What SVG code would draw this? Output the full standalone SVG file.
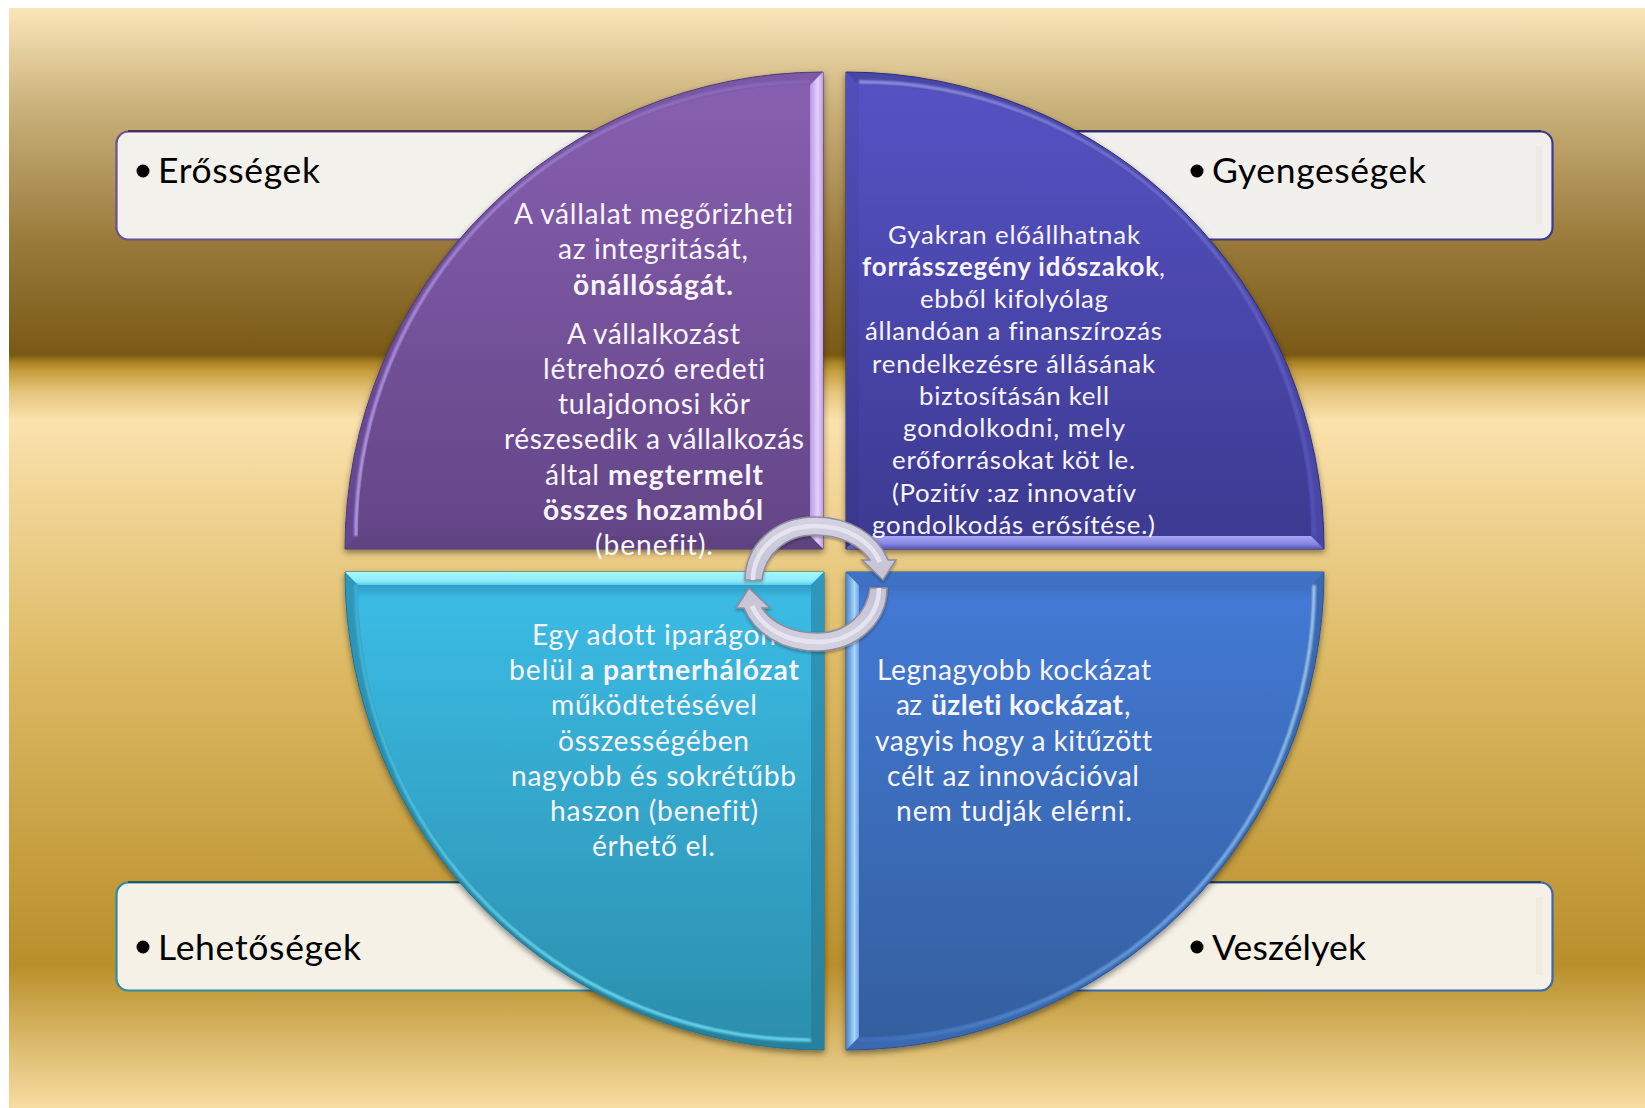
<svg xmlns="http://www.w3.org/2000/svg" width="1645" height="1108" viewBox="0 0 1645 1108">
<style>
text{font-family:Lato,"Liberation Sans",sans-serif;font-variant-ligatures:none}
.w{fill:#f8f5fc}
.q{font-size:28.2px}
.r{font-size:25.8px}
.b{font-weight:700}
.lab{font-size:35.5px;fill:#000}
.box{stroke-width:2.2}
.edge{stroke-width:1.3;fill:none}
.strip{fill:#000;opacity:.025}
.hl{fill:none;stroke-width:3.6;opacity:.85;filter:url(#soft)}
.arrow{stroke:#8f8d9f;stroke-width:1.5;fill:url(#ar)}
.ridge{fill:none;stroke:#e6e4f0;stroke-width:4.5}
</style>
<defs>
<linearGradient id="bg" gradientUnits="userSpaceOnUse" x1="0" y1="8" x2="0" y2="1108">
<stop offset="0" stop-color="#fbe5ba"/><stop offset=".09" stop-color="#c9b17a"/><stop offset=".21" stop-color="#9a7b3c"/><stop offset=".3155" stop-color="#7a5915"/><stop offset=".322" stop-color="#a88224"/><stop offset=".331" stop-color="#c8a040"/><stop offset=".349" stop-color="#e4c47c"/><stop offset=".3745" stop-color="#fbe2ad"/><stop offset=".6" stop-color="#dcb963"/><stop offset=".87" stop-color="#b98f2b"/><stop offset="1" stop-color="#f8dda2"/>
</linearGradient>
<linearGradient id="pf" x1="0" y1="0" x2="0" y2="1"><stop offset="0" stop-color="#875fb0"/><stop offset="1" stop-color="#644687"/></linearGradient>
<linearGradient id="pa" x1="0" y1="1" x2="1" y2="0"><stop offset="0" stop-color="#644690"/><stop offset="1" stop-color="#7c5aa8"/></linearGradient>
<linearGradient id="pr" x1="0" y1="0" x2="1" y2="0"><stop offset="0" stop-color="#b79ae0"/><stop offset=".6" stop-color="#e4d0ff"/><stop offset="1" stop-color="#c0a0e8"/></linearGradient>
<linearGradient id="ph" gradientUnits="userSpaceOnUse" x1="355" y1="536" x2="810" y2="81"><stop offset="0" stop-color="#c4aaf0"/><stop offset=".6" stop-color="#a384d4"/><stop offset="1" stop-color="#8a68b8"/></linearGradient>
<linearGradient id="if" x1="0" y1="0" x2="0" y2="1"><stop offset="0" stop-color="#5652c4"/><stop offset="1" stop-color="#3d3a92"/></linearGradient>
<linearGradient id="il" x1="0" y1="0" x2="0" y2="1"><stop offset="0" stop-color="#524fbc"/><stop offset="1" stop-color="#39368c"/></linearGradient>
<linearGradient id="ib" x1="0" y1="0" x2="0" y2="1"><stop offset="0" stop-color="#a5a6f2"/><stop offset=".6" stop-color="#8586e0"/><stop offset="1" stop-color="#5554b4"/></linearGradient>
<linearGradient id="ih" gradientUnits="userSpaceOnUse" x1="859" y1="81" x2="1315" y2="536"><stop offset="0" stop-color="#a0a0f2"/><stop offset=".4" stop-color="#7474d8"/><stop offset="1" stop-color="#5452b4"/></linearGradient>
<linearGradient id="cf" x1="0" y1="0" x2="0" y2="1"><stop offset="0" stop-color="#2f9cc6"/><stop offset=".03" stop-color="#3bbbe4"/><stop offset="1" stop-color="#2c8fae"/></linearGradient>
<linearGradient id="ca" x1="0" y1="0" x2="0" y2="1"><stop offset="0" stop-color="#2f98bc"/><stop offset="1" stop-color="#26809e"/></linearGradient>
<linearGradient id="ct" x1="0" y1="0" x2="0" y2="1"><stop offset="0" stop-color="#a6f8ff"/><stop offset=".7" stop-color="#8cecfa"/><stop offset="1" stop-color="#5ccce8"/></linearGradient>
<linearGradient id="ch" gradientUnits="userSpaceOnUse" x1="355" y1="585" x2="811" y2="1041"><stop offset="0" stop-color="#3fb6d8"/><stop offset=".7" stop-color="#70e4fa"/><stop offset="1" stop-color="#70e4fa"/></linearGradient>
<linearGradient id="bf" x1="0" y1="0" x2="0" y2="1"><stop offset="0" stop-color="#3d6fc0"/><stop offset=".03" stop-color="#4379d4"/><stop offset="1" stop-color="#345f9f"/></linearGradient>
<linearGradient id="bl" x1="0" y1="0" x2="1" y2="0"><stop offset="0" stop-color="#4a80c8"/><stop offset=".65" stop-color="#a8d8ff"/><stop offset="1" stop-color="#6fa0e0"/></linearGradient>
<linearGradient id="bh" gradientUnits="userSpaceOnUse" x1="1315" y1="585" x2="859" y2="1041"><stop offset="0" stop-color="#b0dcff"/><stop offset=".5" stop-color="#78b0f0"/><stop offset="1" stop-color="#3f70b8"/></linearGradient>
<linearGradient id="ar" x1="0" y1="0" x2="0" y2="1"><stop offset="0" stop-color="#d4d2e0"/><stop offset="1" stop-color="#c4c2d4"/></linearGradient>
<filter id="soft"><feGaussianBlur stdDeviation=".8"/></filter>
<filter id="sh" x="-5%" y="-5%" width="110%" height="110%"><feDropShadow dx="0" dy="3" stdDeviation="3" flood-color="#000" flood-opacity=".45"/></filter>
<filter id="sh2" x="-10%" y="-10%" width="120%" height="120%"><feDropShadow dx="0" dy="1.5" stdDeviation="1.5" flood-color="#000" flood-opacity=".35"/></filter>
</defs>
<rect id="background" x="9" y="8" width="1636" height="1100" fill="url(#bg)"/>

<g id="box-erossegek">
<rect class="box" x="116.5" y="131.5" width="520" height="108" rx="12" fill="#f3f1ec" stroke="#6a4f94"/>
<path class="edge" stroke="#2c2244" d="M128 131H636"/>
<circle cx="143" cy="171" r="6.5"/><text class="lab" x="158" y="183" textLength="162">Erősségek</text>
</g>
<g id="box-gyengesegek">
<rect class="box" x="1030" y="131.5" width="522.5" height="108" rx="12" fill="#f2f0ec" stroke="#3c3a8c"/>
<path class="edge" stroke="#22205c" d="M1030 131H1541"/>
<rect class="strip" x="1536" y="146" width="6" height="78"/>
<circle cx="1197" cy="171" r="6.5"/><text class="lab" x="1212" y="183" textLength="214">Gyengeségek</text>
</g>
<g id="box-lehetosegek">
<rect class="box" x="116.5" y="882.5" width="520" height="108" rx="12" fill="#f5f1e7" stroke="#2f8aa8"/>
<path class="edge" stroke="#14485c" d="M128 882H636"/>
<circle cx="143" cy="947" r="6.5"/><text class="lab" x="158" y="960" textLength="203">Lehetőségek</text>
</g>
<g id="box-veszelyek">
<rect class="box" x="1030" y="882.5" width="522.5" height="108" rx="12" fill="#f5f1e7" stroke="#3a68ac"/>
<path class="edge" stroke="#1d3558" d="M1030 882H1541"/>
<rect class="strip" x="1536" y="897" width="6" height="78"/>
<circle cx="1197" cy="947" r="6.5"/><text class="lab" x="1212" y="960" textLength="154">Veszélyek</text>
</g>

<g id="quadrant-purple">
<path filter="url(#sh)" d="M823 72V549H345A478 477 0 0 1 823 72Z" fill="url(#pa)" stroke="#4f3a70" stroke-width="1"/>
<path d="M823 72V549L810 536V85Z" fill="url(#pr)"/>
<path d="M823 549H345L358 536H810Z" fill="#5f4380"/>
<path class="hl" stroke="url(#ph)" d="M356 536A454 454 0 0 1 810 82"/>
<path d="M810 85V536H358A452 451 0 0 1 810 85Z" fill="url(#pf)"/>
<text class="w q" transform="translate(0 1)"><tspan x="514" y="223" textLength="279">A vállalat megőrizheti</tspan><tspan x="558" y="258" textLength="190">az integritását,</tspan><tspan class="b" x="573" y="294" textLength="160">önállóságát.</tspan><tspan x="567" y="343" textLength="173">A vállalkozást</tspan><tspan x="543" y="378" textLength="222">létrehozó eredeti</tspan><tspan x="558" y="413" textLength="192">tulajdonosi kör</tspan><tspan x="504" y="448" textLength="300">részesedik a vállalkozás</tspan><tspan x="545" y="484" textLength="54">által</tspan><tspan class="b" x="608" y="484" textLength="155">megtermelt</tspan><tspan class="b" x="543" y="519" textLength="220">összes hozamból</tspan><tspan x="595" y="554" textLength="118">(benefit).</tspan></text>
</g>
<g id="quadrant-indigo">
<path filter="url(#sh)" d="M846 72V549H1324A478 477 0 0 0 846 72Z" fill="#4a47a6" stroke="#2e2c78" stroke-width="1"/>
<path d="M846 72V549L859 536V85Z" fill="url(#il)"/>
<path d="M846 549H1324L1311 536H859Z" fill="url(#ib)"/>
<path class="hl" stroke="url(#ih)" d="M859 82A454 454 0 0 1 1314 536"/>
<path d="M859 85V536H1311A452 451 0 0 0 859 85Z" fill="url(#if)"/>
<text class="w r" transform="translate(0 1)"><tspan x="888" y="243" textLength="252">Gyakran előállhatnak</tspan><tspan class="b" x="862" y="275" textLength="297">forrásszegény időszakok</tspan><tspan x="1159" y="275" textLength="5">,</tspan><tspan x="920" y="307" textLength="188">ebből kifolyólag</tspan><tspan x="865" y="339" textLength="297">állandóan a finanszírozás</tspan><tspan x="872" y="372" textLength="283">rendelkezésre állásának</tspan><tspan x="919" y="404" textLength="190">biztosításán kell</tspan><tspan x="903" y="436" textLength="222">gondolkodni, mely</tspan><tspan x="892" y="468" textLength="243">erőforrásokat köt le.</tspan><tspan x="892" y="501" textLength="244">(Pozitív :az innovatív</tspan><tspan x="872" y="533" textLength="283">gondolkodás erősítése.)</tspan></text>
</g>
<g id="quadrant-cyan">
<path filter="url(#sh)" d="M345 572H824V1050A479 478 0 0 1 345 572Z" fill="url(#ca)" stroke="#1f7590" stroke-width="1"/>
<path d="M345 572H824L811 585H358Z" fill="url(#ct)"/>
<path d="M824 572V1050L811 1037V585Z" fill="url(#ca)"/>
<path class="hl" stroke="url(#ch)" d="M356 585A455 455 0 0 0 811 1040"/>
<path d="M358 585H811V1037A453 452 0 0 1 358 585Z" fill="url(#cf)"/>
<text class="w q" transform="translate(0 1)"><tspan x="532" y="644" textLength="244">Egy adott iparágon</tspan><tspan x="509" y="679" textLength="64">belül</tspan><tspan class="b" x="580" y="679" textLength="219">a partnerhálózat</tspan><tspan x="551" y="714" textLength="206">működtetésével</tspan><tspan x="558" y="750" textLength="191">összességében</tspan><tspan x="511" y="785" textLength="285">nagyobb és sokrétűbb</tspan><tspan x="550" y="820" textLength="208">haszon (benefit)</tspan><tspan x="592" y="855" textLength="123">érhető el.</tspan></text>
</g>
<g id="quadrant-blue">
<path filter="url(#sh)" d="M846 572H1324A478 478 0 0 1 846 1050Z" fill="#3a68ae" stroke="#2c5490" stroke-width="1"/>
<path d="M846 572V1050L859 1037V585Z" fill="url(#bl)"/>
<path d="M846 572H1324L1311 585H859Z" fill="#3f72c4"/>
<path class="hl" stroke="url(#bh)" d="M1314 585A455 455 0 0 1 859 1040"/>
<path d="M859 585H1311A452 452 0 0 1 859 1037Z" fill="url(#bf)"/>
<text class="w q" transform="translate(0 1)"><tspan x="877" y="679" textLength="274">Legnagyobb kockázat</tspan><tspan x="896" y="714" textLength="26">az</tspan><tspan class="b" x="931" y="714" textLength="192">üzleti kockázat</tspan><tspan x="1124" y="714" textLength="6">,</tspan><tspan x="875" y="750" textLength="277">vagyis hogy a kitűzött</tspan><tspan x="887" y="785" textLength="252">célt az innovációval</tspan><tspan x="896" y="820" textLength="236">nem tudják elérni.</tspan></text>
</g>
<g id="connectors" filter="url(#sh2)">
<g id="arrow-top">
<path class="arrow" d="M745 580C745 545 775 517 815 517C850 517 878 535 888 560L896 560L883 580L862 560L870 560C860 545 840 535 815 535C785 535 765 555 762 580Z"/>
<path class="ridge" d="M753 580C753 549 780 526 815 526C846 526 870 540 880 562"/>
</g>
<g id="arrow-bottom" transform="rotate(180 816 584)">
<path class="arrow" d="M745 580C745 545 775 517 815 517C850 517 878 535 888 560L896 560L883 580L862 560L870 560C860 545 840 535 815 535C785 535 765 555 762 580Z"/>
<path class="ridge" d="M753 580C753 549 780 526 815 526C846 526 870 540 880 562"/>
</g>
</g>
</svg>
